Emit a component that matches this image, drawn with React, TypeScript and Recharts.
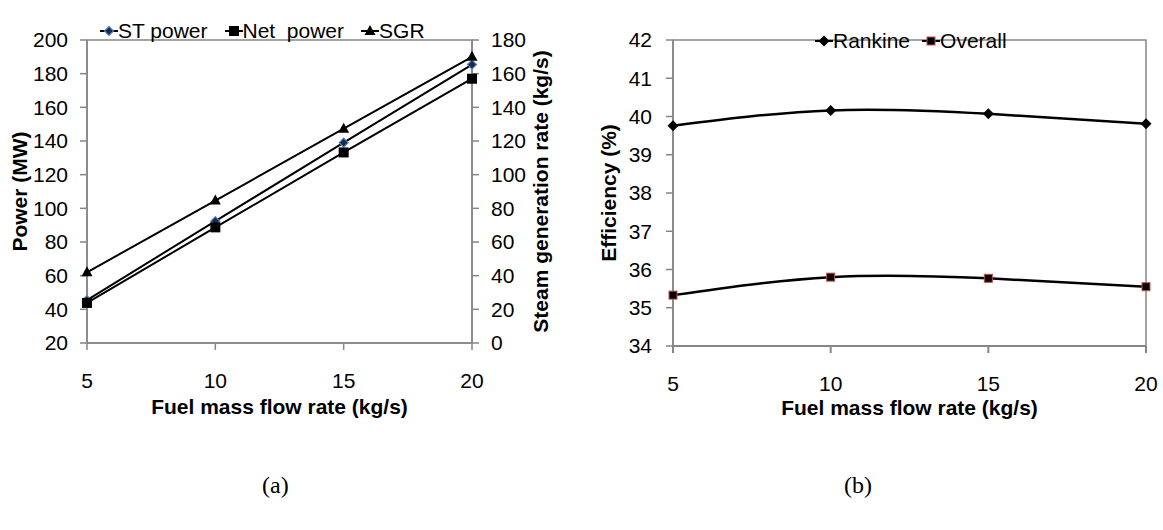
import React from 'react';
import { LineChart, Line, XAxis, YAxis, Legend, ReferenceArea } from 'recharts';

const fuelFlow = [5, 10, 15, 20];
const stPower = [45.5, 92.4, 139, 185.4];
const netPower = [43.8, 88.7, 133.2, 177];
const sgr = [42, 84.6, 127.3, 170];
const rankineEff = [39.76, 40.16, 40.07, 39.81];
const overallEff = [35.33, 35.8, 35.77, 35.55];

const xTicks = [5, 10, 15, 20];
const powerTicks = [20, 40, 60, 80, 100, 120, 140, 160, 180, 200];
const sgrTicks = [0, 20, 40, 60, 80, 100, 120, 140, 160, 180];
const effTicks = [34, 35, 36, 37, 38, 39, 40, 41, 42];

const dataA = fuelFlow.map((f, i) => ({ f, st: stPower[i], net: netPower[i], sgr: sgr[i] }));
const dataB = fuelFlow.map((f, i) => ({ f, rankine: rankineEff[i], overall: overallEff[i] }));

const FONT = 'Arial, Arimo, Liberation Sans, Helvetica, sans-serif';
const SERIF = 'Times New Roman, Tinos, Liberation Serif, Times, serif';
const AXIS = '#868686';
const tickStyle = { fontSize: 21, fill: '#000', fontFamily: FONT };

type MarkerKind = 'diamondSmall' | 'diamond' | 'square' | 'squareRed' | 'triangle';

const Marker = ({ kind, cx, cy }: { kind: MarkerKind; cx: number; cy: number }) => {
  if (kind === 'diamondSmall') {
    const r = 4.5;
    return <path d={`M${cx},${cy - r}L${cx + r},${cy}L${cx},${cy + r}L${cx - r},${cy}Z`} fill="#1a2a4a" stroke="#4f81bd" strokeWidth={1.2} />;
  }
  if (kind === 'diamond') {
    const r = 5.5;
    return <path d={`M${cx},${cy - r}L${cx + r},${cy}L${cx},${cy + r}L${cx - r},${cy}Z`} fill="#000" />;
  }
  if (kind === 'square') {
    return <rect x={cx - 5} y={cy - 5} width={10} height={10} fill="#000" />;
  }
  if (kind === 'squareRed') {
    return <rect x={cx - 4} y={cy - 4} width={8} height={8} fill="#000" stroke="#c0504d" strokeWidth={1} />;
  }
  return <path d={`M${cx},${cy - 6}L${cx + 5.5},${cy + 4}L${cx - 5.5},${cy + 4}Z`} fill="#000" />;
};

const dotOf = (kind: MarkerKind) => (p: any) => <Marker key={`${kind}-${p.index}`} kind={kind} cx={p.cx} cy={p.cy} />;

const LegendItems = ({ items, gap }: { items: { label: string; kind: MarkerKind }[]; gap: number }) => (
  <div style={{ display: 'flex', alignItems: 'center', fontFamily: FONT, fontSize: 21, color: '#000', whiteSpace: 'pre' }}>
    {items.map((it, i) => (
      <div key={it.label} style={{ display: 'flex', alignItems: 'center', marginLeft: i === 0 ? 0 : gap }}>
        <svg width={18} height={14}>
          <line x1={0} y1={7} x2={18} y2={7} stroke="#000" strokeWidth={2} />
          <Marker kind={it.kind} cx={9} cy={7} />
        </svg>
        <span>{it.label}</span>
      </div>
    ))}
  </div>
);

const legendA = [
  { label: 'ST power', kind: 'diamondSmall' as MarkerKind },
  { label: 'Net  power', kind: 'square' as MarkerKind },
  { label: 'SGR', kind: 'triangle' as MarkerKind },
];
const legendB = [
  { label: 'Rankine', kind: 'diamond' as MarkerKind },
  { label: 'Overall', kind: 'squareRed' as MarkerKind },
];

const titleStyle = { fontSize: 21, fontWeight: 'bold', fill: '#000', fontFamily: FONT };

export default function App() {
  return (
    <div style={{ position: 'absolute', left: 0, top: 0, width: 1163, height: 530, background: '#fff' }}>
      <div style={{ position: 'absolute', left: 0, top: 0 }}>
        <LineChart width={560} height={430} data={dataA} margin={{ top: 16, right: 0, bottom: 7, left: 0 }}>
          <XAxis
            dataKey="f"
            type="number"
            domain={[5, 20]}
            ticks={xTicks}
            tick={tickStyle}
            tickSize={7}
            tickMargin={23}
            height={80}
            stroke={AXIS}
            strokeWidth={1.5}
            label={{ value: 'Fuel mass flow rate (kg/s)', position: 'insideBottom', offset: 9, style: titleStyle }}
          />
          <YAxis
            yAxisId="left"
            domain={[20, 200]}
            ticks={powerTicks}
            tick={tickStyle}
            tickSize={7}
            tickMargin={12}
            width={87}
            stroke={AXIS}
            strokeWidth={1.5}
            label={{ value: 'Power (MW)', angle: -90, position: 'center', dx: -24, style: { ...titleStyle, textAnchor: 'middle' } }}
          />
          <YAxis
            yAxisId="right"
            orientation="right"
            domain={[0, 180]}
            ticks={sgrTicks}
            tick={{ ...tickStyle, textAnchor: 'start' }}
            tickSize={7}
            tickMargin={12}
            width={88}
            stroke={AXIS}
            strokeWidth={1.5}
            label={{ value: 'Steam generation rate (kg/s)', angle: -90, position: 'center', dx: 25, style: { ...titleStyle, textAnchor: 'middle' } }}
          />
          <ReferenceArea yAxisId="left" x1={5} x2={20} y1={20} y2={200} fill="none" stroke={AXIS} strokeWidth={1.5} />
          <Legend
            verticalAlign="top"
            content={() => <LegendItems items={legendA} gap={17} />}
            wrapperStyle={{ top: 19, left: 100, width: 'auto' }}
          />
          <Line yAxisId="left" dataKey="st" stroke="#000" strokeWidth={2} dot={dotOf('diamondSmall')} isAnimationActive={false} />
          <Line yAxisId="left" dataKey="net" stroke="#000" strokeWidth={2} dot={dotOf('square')} isAnimationActive={false} />
          <Line yAxisId="right" dataKey="sgr" stroke="#000" strokeWidth={2} dot={dotOf('triangle')} isAnimationActive={false} />
        </LineChart>
      </div>
      <div style={{ position: 'absolute', left: 581, top: 0 }}>
        <LineChart width={582} height={430} data={dataB} margin={{ top: 16, right: 17, bottom: 4, left: 0 }}>
          <XAxis
            dataKey="f"
            type="number"
            domain={[5, 20]}
            ticks={xTicks}
            tick={tickStyle}
            tickSize={7}
            tickMargin={23}
            height={80}
            stroke={AXIS}
            strokeWidth={2}
            label={{ value: 'Fuel mass flow rate (kg/s)', position: 'insideBottom', offset: 11, style: titleStyle }}
          />
          <YAxis
            domain={[34, 42]}
            ticks={effTicks}
            tick={tickStyle}
            tickSize={7}
            tickMargin={14}
            width={92}
            stroke={AXIS}
            strokeWidth={1.5}
            label={{ value: 'Efficiency (%)', angle: -90, position: 'center', dx: -18, style: { ...titleStyle, textAnchor: 'middle' } }}
          />
          <ReferenceArea x1={5} x2={20} y1={34} y2={42} fill="none" stroke={AXIS} strokeWidth={1.5} />
          <Legend
            verticalAlign="top"
            content={() => <LegendItems items={legendB} gap={12} />}
            wrapperStyle={{ top: 29, left: 234, width: 'auto' }}
          />
          <Line dataKey="rankine" type="natural" stroke="#000" strokeWidth={2.5} dot={dotOf('diamond')} isAnimationActive={false} />
          <Line dataKey="overall" type="natural" stroke="#000" strokeWidth={2.5} dot={dotOf('squareRed')} isAnimationActive={false} />
        </LineChart>
      </div>
      <div style={{ position: 'absolute', left: 262, top: 472, fontFamily: SERIF, fontSize: 24 }}>(a)</div>
      <div style={{ position: 'absolute', left: 844, top: 472, fontFamily: SERIF, fontSize: 24 }}>(b)</div>
    </div>
  );
}
